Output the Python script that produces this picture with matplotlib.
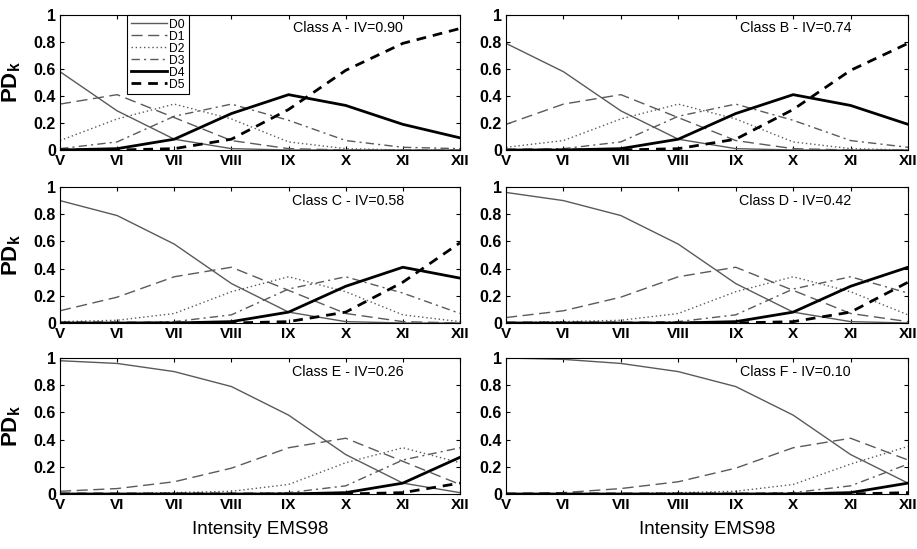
import matplotlib
matplotlib.use("Agg")
import matplotlib.pyplot as plt

plt.rcParams['font.family'] = ['Liberation Sans', 'DejaVu Sans']
plt.rcParams['mathtext.fontset'] = 'custom'
plt.rcParams['mathtext.rm'] = 'Liberation Sans'
plt.rcParams['mathtext.bf'] = 'Liberation Sans:bold'

# 烈度 V..XII
intensity = ["V", "VI", "VII", "VIII", "IX", "X", "XI", "XII"]
grades = ["D0", "D1", "D2", "D3", "D4", "D5"]

# クラスごとの PD_k (行: D0..D5, 列: V..XII)
pd_A = [[0.58, 0.29, 0.08, 0.01, 0.00, 0.00, 0.00, 0.00],
        [0.34, 0.41, 0.24, 0.07, 0.01, 0.00, 0.00, 0.00],
        [0.07, 0.23, 0.34, 0.23, 0.06, 0.01, 0.00, 0.00],
        [0.01, 0.06, 0.25, 0.34, 0.22, 0.07, 0.02, 0.01],
        [0.00, 0.01, 0.08, 0.27, 0.41, 0.33, 0.19, 0.09],
        [0.00, 0.00, 0.01, 0.08, 0.30, 0.59, 0.79, 0.90]]
pd_B = [[0.79, 0.58, 0.29, 0.08, 0.01, 0.00, 0.00, 0.00],
        [0.19, 0.34, 0.41, 0.24, 0.07, 0.01, 0.00, 0.00],
        [0.02, 0.07, 0.23, 0.34, 0.23, 0.06, 0.01, 0.00],
        [0.00, 0.01, 0.06, 0.25, 0.34, 0.22, 0.07, 0.02],
        [0.00, 0.00, 0.01, 0.08, 0.27, 0.41, 0.33, 0.19],
        [0.00, 0.00, 0.00, 0.01, 0.08, 0.30, 0.59, 0.79]]
pd_C = [[0.90, 0.79, 0.58, 0.29, 0.08, 0.01, 0.00, 0.00],
        [0.09, 0.19, 0.34, 0.41, 0.24, 0.07, 0.01, 0.00],
        [0.01, 0.02, 0.07, 0.23, 0.34, 0.23, 0.06, 0.01],
        [0.00, 0.00, 0.01, 0.06, 0.25, 0.34, 0.22, 0.07],
        [0.00, 0.00, 0.00, 0.01, 0.08, 0.27, 0.41, 0.33],
        [0.00, 0.00, 0.00, 0.00, 0.01, 0.08, 0.30, 0.59]]
pd_D = [[0.96, 0.90, 0.79, 0.58, 0.29, 0.08, 0.01, 0.00],
        [0.04, 0.09, 0.19, 0.34, 0.41, 0.24, 0.07, 0.01],
        [0.00, 0.01, 0.02, 0.07, 0.23, 0.34, 0.23, 0.06],
        [0.00, 0.00, 0.00, 0.01, 0.06, 0.25, 0.34, 0.22],
        [0.00, 0.00, 0.00, 0.00, 0.01, 0.08, 0.27, 0.41],
        [0.00, 0.00, 0.00, 0.00, 0.00, 0.01, 0.08, 0.30]]
pd_E = [[0.98, 0.96, 0.90, 0.79, 0.58, 0.29, 0.08, 0.01],
        [0.02, 0.04, 0.09, 0.19, 0.34, 0.41, 0.24, 0.07],
        [0.00, 0.00, 0.01, 0.02, 0.07, 0.23, 0.34, 0.23],
        [0.00, 0.00, 0.00, 0.00, 0.01, 0.06, 0.25, 0.34],
        [0.00, 0.00, 0.00, 0.00, 0.00, 0.01, 0.08, 0.27],
        [0.00, 0.00, 0.00, 0.00, 0.00, 0.00, 0.01, 0.08]]
pd_F = [[1.00, 0.99, 0.96, 0.90, 0.79, 0.58, 0.29, 0.08],
        [0.00, 0.01, 0.04, 0.09, 0.19, 0.34, 0.41, 0.25],
        [0.00, 0.00, 0.00, 0.01, 0.02, 0.07, 0.22, 0.35],
        [0.00, 0.00, 0.00, 0.00, 0.00, 0.01, 0.06, 0.22],
        [0.00, 0.00, 0.00, 0.00, 0.00, 0.00, 0.01, 0.08],
        [0.00, 0.00, 0.00, 0.00, 0.00, 0.00, 0.00, 0.01]]

titles = ["Class A - IV=0.90", "Class B - IV=0.74", "Class C - IV=0.58",
          "Class D - IV=0.42", "Class E - IV=0.26", "Class F - IV=0.10"]
classes = [pd_A, pd_B, pd_C, pd_D, pd_E, pd_F]

gray = "#5a5a5a"
styles = [dict(color=gray, lw=1.0, ls="-"),
          dict(color=gray, lw=1.0, ls=(0, (8, 4))),
          dict(color=gray, lw=1.0, ls=(0, (1, 2))),
          dict(color=gray, lw=1.0, ls=(0, (6, 3, 1.5, 3))),
          dict(color="black", lw=2.0, ls="-"),
          dict(color="black", lw=2.0, ls=(0, (3.5, 2.5)))]

W, H = 917, 549
fig = plt.figure(figsize=(W / 100, H / 100), dpi=100)

# 各パネルの位置 (ピクセル)
cols = [(60, 460), (506, 908)]
rows = [(15, 150), (187, 323), (358, 494)]

x = list(range(len(intensity)))
for i, (data, title) in enumerate(zip(classes, titles)):
    r, c = divmod(i, 2)
    x0, x1 = cols[c]
    y0, y1 = rows[r]
    ax = fig.add_axes([x0 / W, 1 - y1 / H, (x1 - x0) / W, (y1 - y0) / H])
    for k in range(len(grades)):
        ax.plot(x, data[k], label=grades[k], **styles[k])
    ax.set_xlim(0, 7)
    ax.set_ylim(0, 1)
    ax.set_xticks(x)
    ax.set_xticklabels(intensity, fontsize=11, fontweight="bold")
    ax.set_yticks([0, 0.2, 0.4, 0.6, 0.8, 1])
    ax.set_yticklabels(["0", "0.2", "0.4", "0.6", "0.8", "1"],
                       fontsize=11.5, fontweight="bold")
    ax.tick_params(direction="in", top=True, right=True, length=3, pad=3)
    ax.text(0.72, 0.9, title, transform=ax.transAxes, ha="center",
            va="center", fontsize=10.3)
    if c == 0:
        ax.set_ylabel(r"PD$_\mathbf{k}$", fontsize=16, fontweight="bold")
        ax.yaxis.set_label_coords(-0.093, 0.5)
    if r == 2:
        ax.set_xlabel("Intensity EMS98", fontsize=13.5, labelpad=6)
    if i == 0:
        leg = ax.legend(loc="upper left", bbox_to_anchor=(0.168, 1.0),
                        borderaxespad=0, fontsize=8.7, handlelength=3.0,
                        labelspacing=0.0, handletextpad=0.2,
                        borderpad=0.3, fancybox=False, framealpha=1)
        leg.get_frame().set_edgecolor("black")
        leg.get_frame().set_linewidth(0.8)

fig.savefig("out.png", dpi=100)
plt.close()
